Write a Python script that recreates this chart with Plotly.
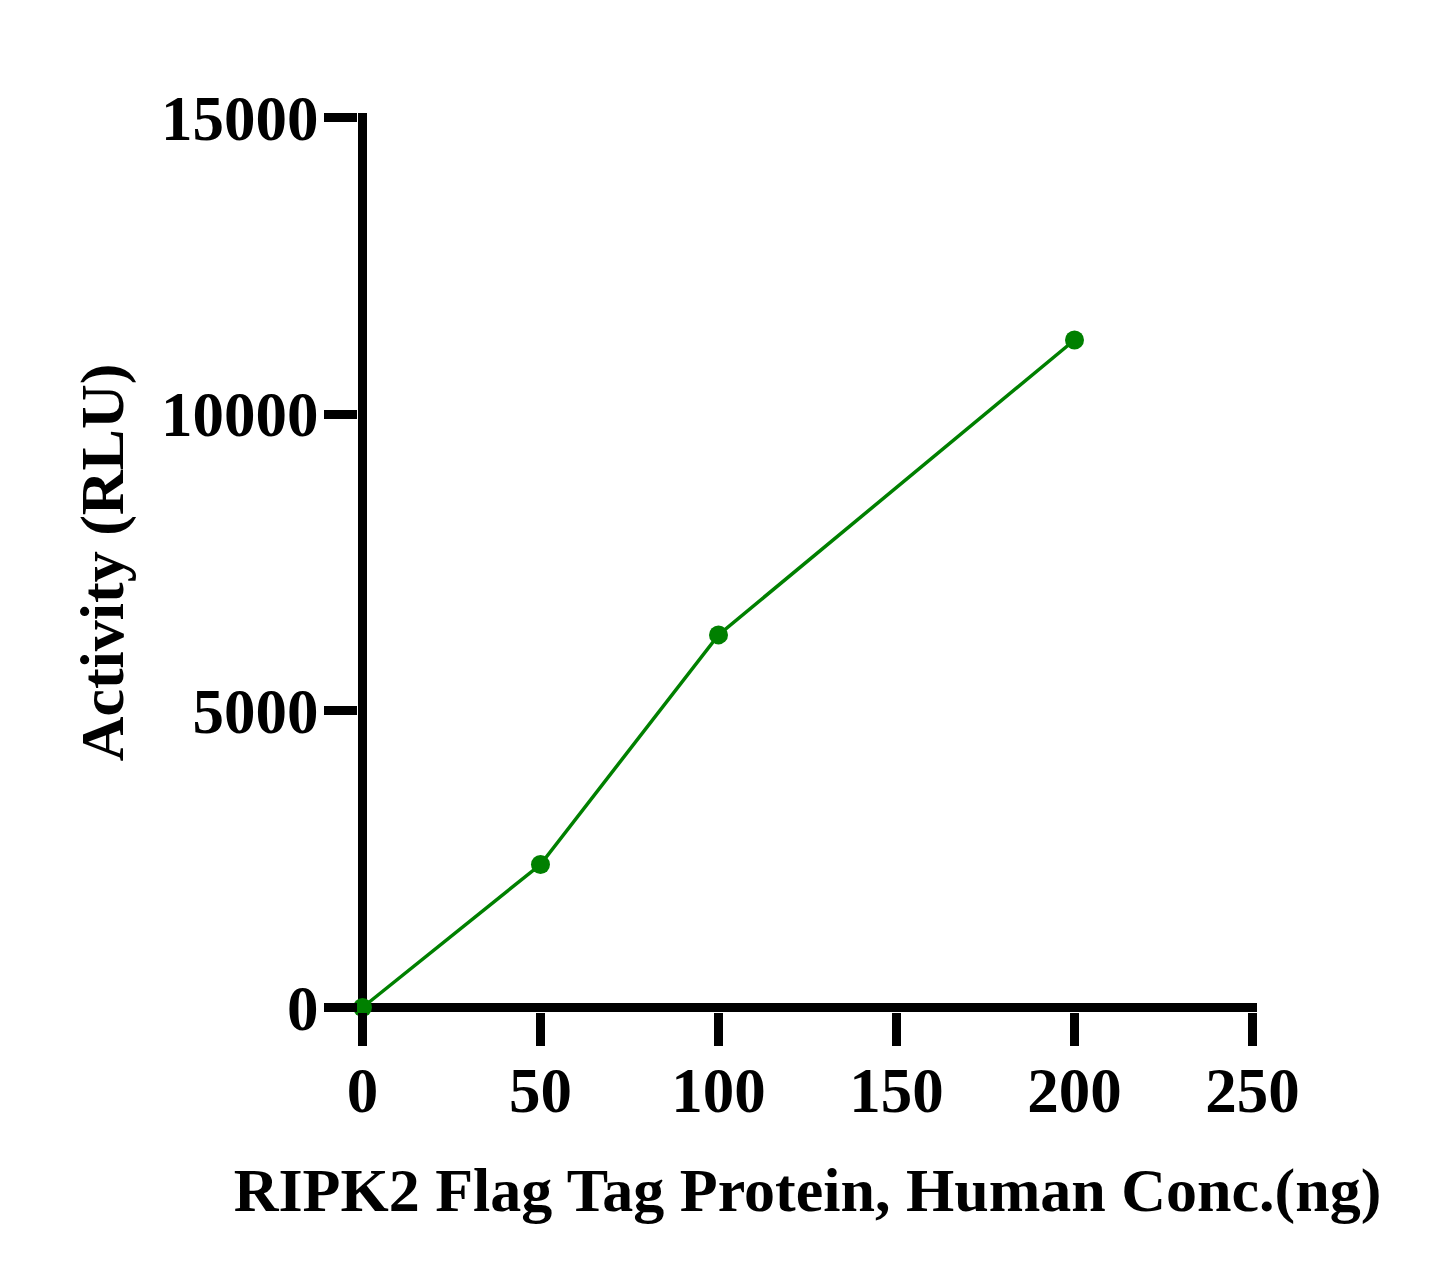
import plotly.graph_objects as go

conc_ng = [0, 50, 100, 200]
activity_rlu = [0, 2410, 6280, 11250]

x_ticks = [0, 50, 100, 150, 200, 250]
y_ticks = [0, 5000, 10000, 15000]

font_name = 'Liberation Serif'
fsize = 63
title_size = 62

fig = go.Figure()
fig.add_trace(go.Scatter(x=conc_ng, y=activity_rlu, mode='lines+markers',
                         line=dict(color='#008000', width=3.5),
                         marker=dict(color='#008000', size=19),
                         cliponaxis=False, showlegend=False))

# page body has an 8px margin, margins below account for it
fig.update_layout(width=1445, height=1286,
                  paper_bgcolor='white', plot_bgcolor='white',
                  margin=dict(l=350, r=196, t=105, b=282),
                  font=dict(family=font_name, size=fsize, color='black'))

# axis lines drawn as zerolines so they pass through the data origin
fig.update_xaxes(range=[-1.26, 251.26], tickvals=x_ticks, ticktext=[str(v) for v in x_ticks],
                 ticks='outside', ticklen=33, tickwidth=9, tickcolor='black',
                 showline=False, zeroline=True, zerolinewidth=9, zerolinecolor='black',
                 showgrid=False, automargin=False,
                 tickfont=dict(family=font_name, size=fsize, weight='bold'),
                 ticklabelstandoff=-10,
                 title=dict(text='<b>RIPK2 Flag Tag Protein, Human Conc.(ng)</b>',
                            font=dict(family=font_name, size=title_size), standoff=43))
fig.update_yaxes(range=[-75.8, 15075.8], tickvals=y_ticks, ticktext=[str(v) for v in y_ticks],
                 ticks='outside', ticklen=33, tickwidth=9, tickcolor='black',
                 showline=False, zeroline=True, zerolinewidth=9, zerolinecolor='black',
                 showgrid=False, automargin=False,
                 tickfont=dict(family=font_name, size=fsize, weight='bold'),
                 ticklabelstandoff=-7,
                 title=dict(text='<b>Activity (RLU)</b>',
                            font=dict(family=font_name, size=title_size), standoff=17))

fig.write_html("out.html")
